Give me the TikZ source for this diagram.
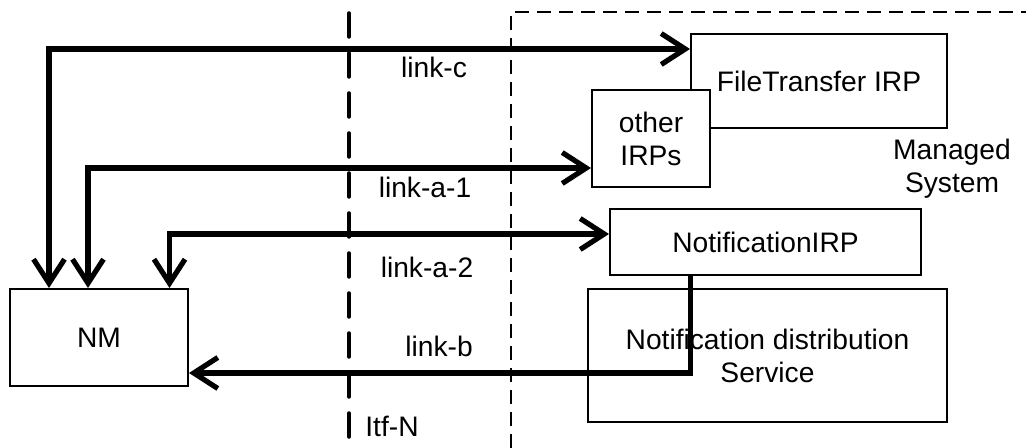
\documentclass[tikz,border=0pt]{standalone}
\usepackage{fontspec}
\setmainfont{Liberation Sans}
\usetikzlibrary{arrows.meta,calc}
\begin{document}
\begin{tikzpicture}[x=0.5pt,y=-0.5pt,
  every node/.style={font=\fontsize{14.1}{16.5}\selectfont},
  box/.style={draw,line width=1pt,fill=white,inner sep=0pt,align=center},
  plain/.style={inner sep=0pt,align=center},
  lbl/.style={inner sep=0pt,anchor=base},
  link/.style={line width=2.6pt},
  >={Straight Barb[length=12pt,width=15.5pt]},
  itfline/.style={line width=1.75pt,line cap=round,dash pattern=on 12pt off 8pt},
  msline/.style={line width=1pt,dash pattern=on 7pt off 4pt}]
\useasboundingbox (0,0) rectangle (1026,448);

% boundaries
\coordinate (itftop) at (349,13);
\coordinate (itfbot) at (349,448);
\coordinate (msbot) at (511,448);
\coordinate (mscorner) at (511,12);
\coordinate (msright) at (1026,12);
\draw[itfline] (itftop) -- (itfbot);
\draw[msline] (msbot) -- (mscorner) -- (msright);

% boxes
\node[box,minimum width=89pt,minimum height=48.5pt] (NM) at (99,337.5) {NM};
\node[box,minimum width=128pt,minimum height=47pt] (FT) at (819,81) {FileTransfer IRP};
\node[box,minimum width=59pt,minimum height=48.5pt] (OI) at (651,138.5) {other\\IRPs};
\node[box,minimum width=155.5pt,minimum height=33pt] (NI) at (765.5,242) {NotificationIRP};
\node[box,minimum width=179.5pt,minimum height=66.5pt] (ND) at (767.5,355.5) {Notification distribution\\Service};
\node[plain] (MS) at (952,169) {Managed\\System};

% links
\draw[link,<->] ([yshift=-8pt]FT.north west) -| ([xshift=20pt]NM.north west);
\draw[link,<->] ([yshift=-39.5pt]OI.north west) -| ([xshift=39.5pt]NM.north west);
\draw[link,<->] ([yshift=-13pt]NI.north west) -| ([xshift=80.25pt]NM.north west);
\draw[link,->] ([xshift=40.85pt]NI.south west) |- ([yshift=7pt]NM.south east);

% labels
\node[lbl] (lc) at (434,78) {link-c};
\node[lbl] (la1) at (425,198) {link-a-1};
\node[lbl] (la2) at (427,278) {link-a-2};
\node[lbl] (lb) at (439,356) {link-b};
\node[lbl] (itf) at (392,436) {Itf-N};
\end{tikzpicture}
\end{document}
